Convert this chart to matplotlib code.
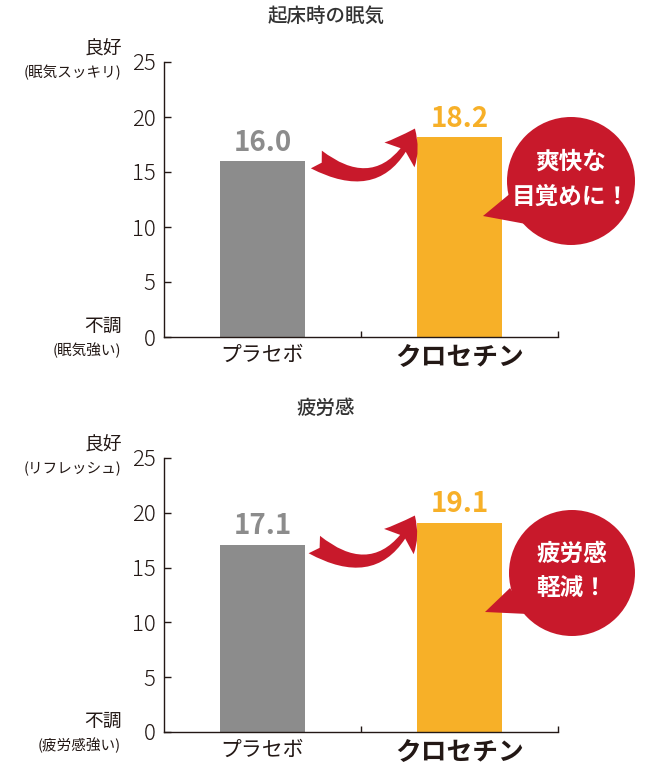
import matplotlib
matplotlib.use('Agg')
import matplotlib.pyplot as plt
import matplotlib.patches as mpatches

plt.rcParams['font.family'] = ['Noto Sans CJK JP', 'DejaVu Sans']

# data
categories = ['プラセボ', 'クロセチン']
titles = ['起床時の眠気', '疲労感']
values_sleep = [16.0, 18.2]
values_fatigue = [17.1, 19.1]
yticks = [0, 5, 10, 15, 20, 25]
top_labels = [('良好', '(眠気スッキリ)'), ('良好', '(リフレッシュ)')]
bottom_labels = [('不調', '(眠気強い)'), ('不調', '(疲労感強い)')]
bubble_texts = [('爽快な', '目覚めに！'), ('疲労感', '軽減！')]

W, H = 660, 766
dark = '#231815'
gray = '#8c8c8c'
orange = '#f7b028'
red = '#c8192b'

fig = plt.figure(figsize=(W / 100, H / 100), dpi=100)


def fx(px):
    return px / W


def fy(py):
    return 1 - py / H


def draw_panel(values, y0, y25, title, top_lab, bot_lab, title_y):
    ax = fig.add_axes([fx(164), fy(y0), fx(558) - fx(164), (y0 - y25) / H])
    ax.bar([0, 1], values, width=0.43, color=[gray, orange], zorder=2)
    ax.set_xlim(-0.5, 1.5)
    ax.set_ylim(0, 25)
    for s in ['top', 'right']:
        ax.spines[s].set_visible(False)
    for s in ['left', 'bottom']:
        ax.spines[s].set_color(dark)
        ax.spines[s].set_linewidth(1.0)
    ax.set_yticks(yticks)
    ax.set_yticklabels([str(t) for t in yticks], fontsize=16, color=dark, fontweight='light')
    ax.tick_params(axis='y', direction='in', length=5, width=1, color=dark, pad=6)
    ax.set_xticks([0, 1])
    ax.set_xticklabels(categories)
    ax.tick_params(axis='x', which='major', length=0, pad=5)
    xl = ax.get_xticklabels()
    xl[0].set_fontsize(15)
    xl[0].set_color(dark)
    xl[1].set_fontsize(18.5)
    xl[1].set_fontweight('bold')
    xl[1].set_color(dark)
    ax.set_xticks([0.5, 1.5], minor=True)
    ax.tick_params(axis='x', which='minor', direction='in', length=4, width=1, color=dark)
    # value labels
    for i, v in enumerate(values):
        ax.annotate('%.1f' % v, (i, v), xytext=(0, 3), textcoords='offset points',
                    ha='center', va='bottom', fontsize=20, fontweight='bold',
                    color=[gray, orange][i])
    fig.text(fx(326), fy(title_y), title, ha='center', va='center', fontsize=14,
             fontweight='medium', color='#333333')
    # side labels
    fig.text(fx(122), fy(y25 - 13), top_lab[0], ha='right', va='center', fontsize=13.5, color=dark)
    fig.text(fx(121), fy(y25 + 11), top_lab[1], ha='right', va='center', fontsize=10.5, color=dark)
    fig.text(fx(122), fy(y0 - 11), bot_lab[0], ha='right', va='center', fontsize=13.5, color=dark)
    fig.text(fx(121), fy(y0 + 13), bot_lab[1], ha='right', va='center', fontsize=10.5, color=dark)
    return ax


ax1 = draw_panel(values_sleep, 337, 62, titles[0], top_labels[0], bottom_labels[0], 16)
ax2 = draw_panel(values_fatigue, 732, 458, titles[1], top_labels[1], bottom_labels[1], 408)

# overlay for arrows and bubbles (pixel coords)
ov = fig.add_axes([0, 0, 1, 1], zorder=5)
ov.set_xlim(0, W)
ov.set_ylim(H, 0)
ov.axis('off')


def draw_arrow(start, end):
    arr = mpatches.FancyArrowPatch(start, end, connectionstyle='arc3,rad=0.6',
                                   arrowstyle='fancy,head_length=1.1,head_width=1.4,tail_width=0.75',
                                   mutation_scale=20, color=red, lw=0)
    ov.add_patch(arr)


def draw_bubble(cx, cy, r, tail, lines):
    ov.add_patch(mpatches.Polygon(tail, closed=True, color=red, lw=0))
    ov.add_patch(mpatches.Circle((cx, cy), r, color=red, lw=0))
    ov.text(cx, cy - 19, lines[0], ha='center', va='center', fontsize=17,
            fontweight='bold', color='white')
    ov.text(cx, cy + 16, lines[1], ha='center', va='center', fontsize=17,
            fontweight='bold', color='white')


draw_arrow((314, 158), (416, 126))
draw_arrow((312, 543), (416, 513))
draw_bubble(571, 181, 64, [(483, 216), (512, 192), (526, 224)], bubble_texts[0])
draw_bubble(572, 573, 63, [(485, 612), (510, 588), (528, 614)], bubble_texts[1])

fig.savefig('out.png', dpi=100)
